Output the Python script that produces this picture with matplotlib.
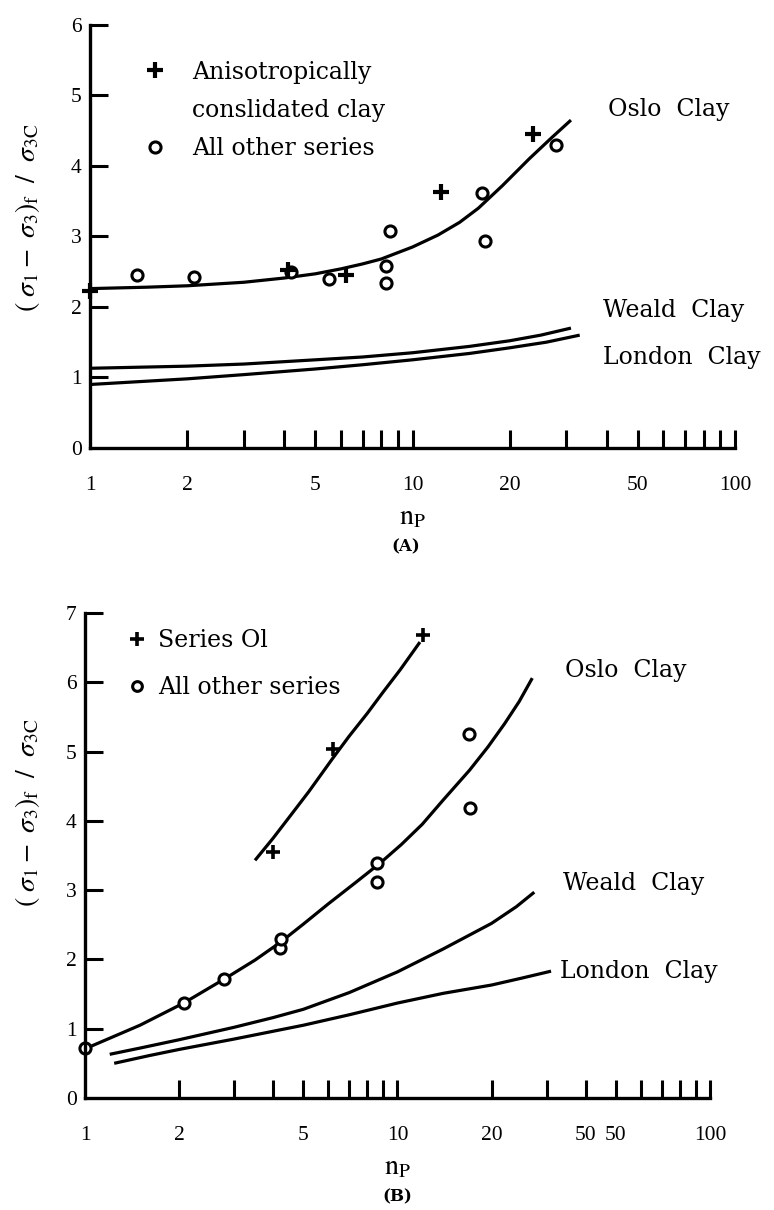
import matplotlib
matplotlib.use("Agg")
import matplotlib.pyplot as plt
from matplotlib.lines import Line2D

plt.rcParams['mathtext.fontset'] = 'stix'
plt.rcParams['font.family'] = ['DejaVu Serif']

# ---- panel A: anisotropically consolidated clay ----
a_plus_n = [1.0, 4.1, 6.2, 12.3, 23.7]
a_plus_v = [2.22, 2.52, 2.45, 3.63, 4.45]
a_circ_n = [1.4, 2.1, 4.2, 5.5, 8.3, 8.3, 8.5, 16.4, 16.8, 27.9]
a_circ_v = [2.45, 2.43, 2.50, 2.40, 2.58, 2.34, 3.07, 3.62, 2.94, 4.30]

a_oslo_n = [1, 1.5, 2, 3, 4, 5, 6, 7, 8, 10, 12, 14, 16, 19, 23, 27, 31]
a_oslo_v = [2.26, 2.28, 2.30, 2.35, 2.41, 2.47, 2.54, 2.61, 2.68, 2.85,
            3.02, 3.20, 3.40, 3.72, 4.10, 4.40, 4.65]
a_weald_n = [1, 2, 3, 5, 7, 10, 15, 20, 25, 31]
a_weald_v = [1.13, 1.16, 1.19, 1.25, 1.29, 1.35, 1.44, 1.52, 1.60, 1.70]
a_london_n = [1, 2, 3, 5, 7, 10, 15, 20, 26, 33]
a_london_v = [0.90, 0.98, 1.04, 1.12, 1.18, 1.25, 1.34, 1.42, 1.50, 1.60]

# ---- panel B: series Ol and the rest ----
b_plus_n = [4.0, 6.2, 12.1]
b_plus_v = [3.55, 5.04, 6.68]
b_circ_n = [1.0, 2.07, 2.78, 4.2, 4.25, 8.6, 8.6, 16.9, 17.1]
b_circ_v = [0.72, 1.37, 1.72, 2.16, 2.29, 3.12, 3.39, 5.25, 4.18]

b_ol_n = [3.5, 4.0, 4.5, 5.2, 6.2, 7.0, 8.0, 9.0, 10.2, 11.8]
b_ol_v = [3.43, 3.75, 4.05, 4.42, 4.90, 5.22, 5.55, 5.86, 6.18, 6.58]
b_oslo_n = [1.05, 1.5, 2.07, 2.8, 3.5, 4.2, 5.0, 6.0, 7.3, 8.8, 10.3, 12, 14,
            17, 19.5, 22, 24.5, 27]
b_oslo_v = [0.75, 1.05, 1.37, 1.72, 1.99, 2.24, 2.51, 2.80, 3.10, 3.39, 3.66,
            3.95, 4.30, 4.73, 5.07, 5.40, 5.72, 6.06]
b_weald_n = [1.2, 1.5, 2, 3, 4, 5, 7, 10, 14, 20, 24, 27.4]
b_weald_v = [0.63, 0.72, 0.84, 1.02, 1.16, 1.28, 1.52, 1.82, 2.15, 2.52, 2.76, 2.97]
b_london_n = [1.24, 1.6, 2, 3, 5, 7, 10, 14, 20, 25, 31]
b_london_v = [0.50, 0.61, 0.70, 0.85, 1.05, 1.20, 1.37, 1.51, 1.63, 1.73, 1.83]

x_ticks = [1, 2, 3, 4, 5, 6, 7, 8, 9, 10, 20, 30, 40, 50, 60, 70, 80, 90, 100]
a_xlabels = {1: '1', 2: '2', 5: '5', 10: '10', 20: '20', 50: '50', 100: '100'}
b_xlabels = {1: '1', 2: '2', 5: '5', 10: '10', 20: '20', 40: '50', 50: '50', 100: '100'}

ylab = r'$(\ \sigma_1 -\ \sigma_3)_{\mathrm{f}}\ \ /\ \ \sigma_{\mathrm{3C}}$'
LW = 2.3
TXT = 17

fig = plt.figure(figsize=(7.74, 12.10), dpi=100)
axA = fig.add_axes([0.1163, 0.6298, 0.8333, 0.3496])
axB = fig.add_axes([0.1098, 0.0926, 0.8075, 0.4008])


def style_axes(ax, ymax, labels):
    ax.set_xscale('log')
    ax.set_xlim(1, 100)
    ax.set_ylim(0, ymax)
    for s in ['top', 'right']:
        ax.spines[s].set_visible(False)
    for s in ['left', 'bottom']:
        ax.spines[s].set_linewidth(2.4)
    ax.set_xticks(x_ticks)
    ax.set_xticklabels([labels.get(t, '') for t in x_ticks],
                       fontfamily='Liberation Serif', fontsize=15.5)
    ax.minorticks_off()
    ax.set_yticks(range(0, ymax + 1))
    ax.set_yticklabels([str(i) for i in range(0, ymax + 1)],
                       fontfamily='Liberation Serif', fontsize=15.5)
    ax.tick_params(axis='x', direction='in', length=13, width=2.2, pad=20)
    ax.tick_params(axis='y', direction='in', length=13, width=2.2, pad=6)
    ax.yaxis.get_major_ticks()[0].tick1line.set_visible(False)
    ax.xaxis.get_major_ticks()[0].tick1line.set_visible(False)
    ax.set_xlabel(r'$\mathrm{n_P}$', fontsize=20, labelpad=6)
    ax.set_ylabel(ylab, fontsize=20)


# panel A
style_axes(axA, 6, a_xlabels)
for n, v in [(a_oslo_n, a_oslo_v), (a_weald_n, a_weald_v), (a_london_n, a_london_v)]:
    axA.plot(n, v, color='black', lw=LW, clip_on=False, solid_capstyle='butt')
axA.plot(a_circ_n, a_circ_v, 'o', ms=8, mfc='white', mec='black', mew=2.2, clip_on=False)
axA.plot(a_plus_n, a_plus_v, '+', ms=12, mec='black', mew=3, clip_on=False)
axA.yaxis.set_label_coords(-0.074, 0.544)

hA = [Line2D([], [], ls='none', marker='+', ms=12, mec='black', mew=3),
      Line2D([], [], ls='none'),
      Line2D([], [], ls='none', marker='o', ms=8, mfc='white', mec='black', mew=2.2)]
axA.legend(hA, ['Anisotropically', 'conslidated clay', 'All other series'],
           loc='upper left', bbox_to_anchor=(0.068, 0.938), frameon=False,
           handlelength=1.0, handletextpad=1.05, labelspacing=0.65,
           prop={'family': 'DejaVu Serif', 'size': TXT}, borderaxespad=0)

axA.text(0.803, 0.80, 'Oslo  Clay', transform=axA.transAxes, fontsize=TXT, va='center')
axA.text(0.795, 0.326, 'Weald  Clay', transform=axA.transAxes, fontsize=TXT, va='center')
axA.text(0.795, 0.213, 'London  Clay', transform=axA.transAxes, fontsize=TXT, va='center')
axA.text(0.49, -0.235, '(A)', transform=axA.transAxes, fontsize=12,
         fontweight='bold', ha='center', va='center')

# panel B
style_axes(axB, 7, b_xlabels)
for n, v in [(b_ol_n, b_ol_v), (b_oslo_n, b_oslo_v), (b_weald_n, b_weald_v),
             (b_london_n, b_london_v)]:
    axB.plot(n, v, color='black', lw=LW, clip_on=False, solid_capstyle='butt')
axB.plot(b_circ_n, b_circ_v, 'o', ms=8, mfc='white', mec='black', mew=2.2, clip_on=False)
axB.plot(b_plus_n, b_plus_v, '+', ms=10, mec='black', mew=2.6, clip_on=False)
axB.yaxis.set_label_coords(-0.069, 0.588)

hB = [Line2D([], [], ls='none', marker='+', ms=10, mec='black', mew=2.6),
      Line2D([], [], ls='none', marker='o', ms=7, mfc='white', mec='black', mew=2.2)]
axB.legend(hB, ['Series Ol', 'All other series'],
           loc='upper left', bbox_to_anchor=(0.053, 0.986), frameon=False,
           handlelength=0.8, handletextpad=0.5, labelspacing=1.0,
           prop={'family': 'DejaVu Serif', 'size': TXT}, borderaxespad=0)

axB.text(0.768, 0.882, 'Oslo  Clay', transform=axB.transAxes, fontsize=TXT, va='center')
axB.text(0.765, 0.443, 'Weald  Clay', transform=axB.transAxes, fontsize=TXT, va='center')
axB.text(0.76, 0.26, 'London  Clay', transform=axB.transAxes, fontsize=TXT, va='center')
axB.text(0.5, -0.205, '(B)', transform=axB.transAxes, fontsize=12,
         fontweight='bold', ha='center', va='center')

fig.savefig('out.png', dpi=100, facecolor='white')
